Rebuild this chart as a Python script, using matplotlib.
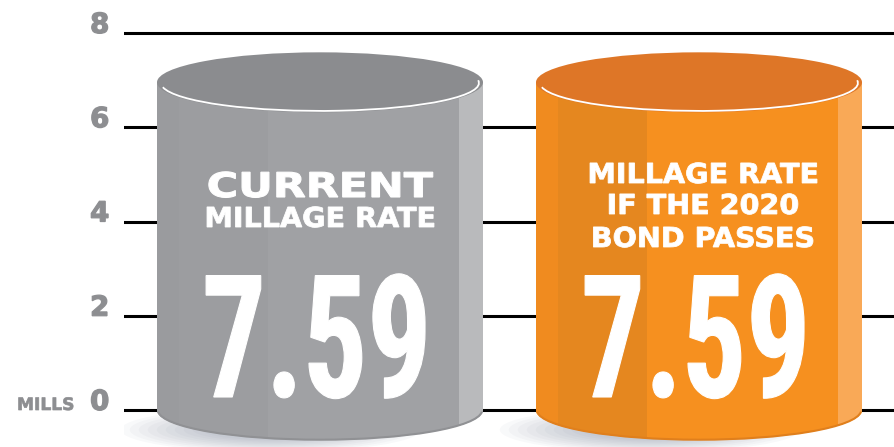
import matplotlib
matplotlib.use("Agg")
import matplotlib.pyplot as plt
import numpy as np
from matplotlib.patches import Ellipse, Rectangle, Arc, PathPatch
from matplotlib.path import Path
from matplotlib.transforms import Affine2D
from matplotlib.patheffects import AbstractPathEffect
from matplotlib import font_manager

# ---------------- data ----------------
header_lines = [["CURRENT", "MILLAGE RATE"],
                ["MILLAGE RATE", "IF THE 2020", "BOND PASSES"]]
values = [7.59, 7.59]
value_labels = ["7.59", "7.59"]
y_ticks = [0, 2, 4, 6, 8]
y_tick_labels = ["0", "2", "4", "6", "8"]
unit_label = "MILLS"

# ---------------- styles ----------------
body_colors = ["#a0a1a4", "#f6901f"]
top_colors = ["#8b8c8f", "#de7627"]
left_colors = ["#9a9b9e", "#f08b1f"]
band_colors = ["#9c9da0", "#e5871f"]
right_colors = ["#b9babc", "#f9a957"]
bottom_edge = ["#909194", "#e07f1c"]
tick_gray = "#8d8e91"

names = {f.name for f in font_manager.fontManager.ttflist}
if "Roboto Condensed" in names:
    num_font = dict(family="Roboto Condensed", weight="bold")
elif "Liberation Sans Narrow" in names:
    num_font = dict(family="Liberation Sans Narrow", weight="bold")
else:
    num_font = dict(family="DejaVu Sans", weight="bold", stretch="condensed")


class FitText(AbstractPathEffect):
    """Scale glyph outlines horizontally/vertically (text stays a Text)."""
    def __init__(self, width_px=None, height_px=None, sx=None, stroke=0.0):
        super().__init__()
        self.width_px = width_px
        self.height_px = height_px
        self.sx = sx
        self.stroke = stroke

    def draw_path(self, renderer, gc, tpath, affine, rgbFace=None):
        ext = tpath.get_extents()
        m = affine.get_matrix()
        kx, ky = abs(m[0, 0]), abs(m[1, 1])
        f = renderer.points_to_pixels(72.0) / 100.0
        spx = renderer.points_to_pixels(self.stroke)
        sx = 1.0
        sy = 1.0
        if self.sx is not None:
            sx = self.sx
        elif self.width_px is not None:
            sx = (self.width_px * f - spx) / (ext.width * kx)
        if self.height_px is not None:
            sy = (self.height_px * f - spx) / (ext.height * ky)
        cx = (ext.x0 + ext.x1) / 2.0
        t = Affine2D().translate(-cx, 0).scale(sx, sy).translate(cx, 0) + affine
        if self.stroke > 0:
            gc0 = renderer.new_gc()
            gc0.copy_properties(gc)
            gc0.set_linewidth(self.stroke)
            gc0.set_foreground(rgbFace[:3])
            gc0.set_joinstyle("miter")
            renderer.draw_path(gc0, tpath, t, rgbFace)
            gc0.restore()
        else:
            renderer.draw_path(gc, tpath, t, rgbFace)


W, H = 895, 447
fig = plt.figure(figsize=(W / 100, H / 100), dpi=100)
fig.patch.set_facecolor("white")
ax = fig.add_axes([124 / W, 0, 1 - 124 / W, 1])

PX_Y = 47.125      # pixels per data unit (y)
Y0_PX = 410        # pixel row of y = 0
PX_X = 379         # pixels per category unit
X0_PX = 320        # pixel column of first category
ax.set_ylim(-(H - Y0_PX) / PX_Y, Y0_PX / PX_Y)
ax.set_xlim((124 - X0_PX) / PX_X, (W - X0_PX) / PX_X)


def ypx(p):
    return (Y0_PX - p) / PX_Y


for s in ax.spines.values():
    s.set_visible(False)
ax.set_xticks([])
ax.set_yticks(y_ticks, labels=y_tick_labels)
ax.tick_params(axis="y", length=0, pad=10.5, labelsize=20, labelcolor=tick_gray)
for lab in ax.get_yticklabels():
    lab.set_fontweight("bold")
    lab.set_va("baseline")
    lab.set_family("DejaVu Sans")
    lab.set_path_effects([FitText(sx=1.0, stroke=0.9)])

for t in y_ticks:
    ax.axhline(t, color="black", lw=2.2, zorder=1)

ax.annotate(unit_label, xy=(75 / W, 0), xycoords=("figure fraction", "data"),
            ha="right", va="baseline", color=tick_gray, fontsize=12.3,
            fontweight="bold", annotation_clip=False,
            path_effects=[FitText(sx=1.0, stroke=0.5)])

w = 326 / PX_X
ry = 30 / PX_Y
xs = np.arange(len(values))

for i, (x, v) in enumerate(zip(xs, values)):
    top_c = v - ry
    # soft shadow toward lower left
    for k in range(10):
        sc = 1.0 - k * 0.06
        ax.add_patch(Ellipse((x - 0.13, -0.42), w * 0.92 * sc, 0.95 * sc,
                             fc="#5f6880", ec="none", alpha=0.04, zorder=2))
    th = np.linspace(np.pi, 2 * np.pi, 80)
    verts = [(x + w / 2 * np.cos(a), ry * np.sin(a)) for a in th]
    verts += [(x + w / 2, top_c), (x - w / 2, top_c), (x - w / 2, 0), (x - w / 2, 0)]
    codes = [Path.MOVETO] + [Path.LINETO] * (len(verts) - 2) + [Path.CLOSEPOLY]
    body = PathPatch(Path(verts, codes), fc=body_colors[i], ec="none", zorder=3)
    ax.add_patch(body)
    bands = [(x - w / 2, 22 / PX_X, left_colors[i]),
             (x - w / 2 + 22 / PX_X, 89 / PX_X, band_colors[i]),
             (x + w / 2 - 24 / PX_X, 24 / PX_X, right_colors[i])]
    for bx, bw, bc in bands:
        r = Rectangle((bx, -ry - 0.1), bw, top_c + ry + 0.1, fc=bc, ec="none", zorder=3.5)
        ax.add_patch(r)
        r.set_clip_path(body)
    ax.add_patch(Arc((x, 0), w * 0.995, 2 * ry * 0.99, theta1=185, theta2=355,
                     color=bottom_edge[i], lw=1.5, zorder=3.6))
    ax.add_patch(Ellipse((x, top_c), w, 2 * ry, fc=top_colors[i], ec="none", zorder=4))
    ax.add_patch(Arc((x, top_c - 0.015), w * 0.975, 2 * ry * 0.93, theta1=192, theta2=368,
                     color="white", lw=1.3, zorder=4.5))

    # header text
    lines = header_lines[i]
    if i == 0:
        ax.text(x, ypx(197), lines[0], ha="center", va="baseline", color="white",
                fontsize=24.5, fontweight="bold", zorder=6,
                path_effects=[FitText(width_px=225, stroke=0.8)])
        ax.text(x, ypx(227), lines[1], ha="center", va="baseline", color="white",
                fontsize=19.8, fontweight="bold", zorder=6,
                path_effects=[FitText(sx=1.04, stroke=0.6)])
    else:
        for line, base in zip(lines, [183, 214, 247]):
            ax.text(x + 4 / PX_X, ypx(base), line, ha="center", va="baseline",
                    color="white", fontsize=19.8, fontweight="bold", zorder=6,
                    path_effects=[FitText(sx=1.04, stroke=0.6)])
    ax.text(x - 3 / PX_X, ypx(397), value_labels[i], ha="center", va="baseline",
            color="white", fontsize=110, zorder=6, **num_font,
            path_effects=[FitText(width_px=220, height_px=126, stroke=0.8)])

fig.savefig("out.png", dpi=100, facecolor="white")
